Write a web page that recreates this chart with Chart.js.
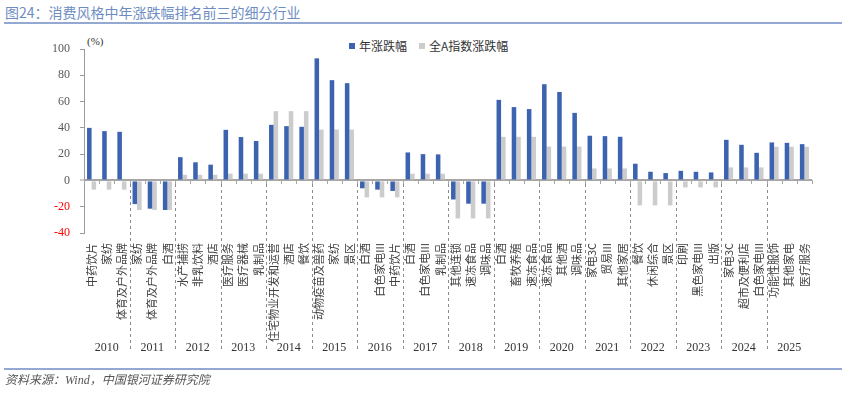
<!DOCTYPE html>
<html><head><meta charset="utf-8">
<script src="https://cdn.jsdelivr.net/npm/chart.js@4/dist/chart.umd.min.js"></script>
<style>
html,body{margin:0;padding:0;background:#fff;}
body{width:848px;height:393px;overflow:hidden;position:relative;font-family:"Liberation Serif","Noto Sans CJK SC",serif;}
#title{position:absolute;left:5px;top:3px;font-size:14px;line-height:18px;color:#6d8dc2;font-family:"Noto Sans CJK SC",sans-serif;white-space:nowrap;}
.hr{position:absolute;left:4px;width:838px;height:2px;background:#94a9d2;}
#footer{position:absolute;left:5px;top:372px;font-size:12px;line-height:16px;font-style:italic;color:#555;white-space:nowrap;font-family:"Liberation Serif","Noto Sans CJK SC",serif;}
#chart{position:absolute;left:0;top:0;}
.lg{position:absolute;font-size:12px;line-height:14px;color:#333;font-family:"Noto Sans CJK SC",sans-serif;white-space:nowrap;}
.sw{position:absolute;width:6px;height:6px;}
#pct{position:absolute;left:87px;top:35px;font-size:11px;line-height:13px;color:#333;}
</style>
</head><body>
<div id="title">图24：消费风格中年涨跌幅排名前三的细分行业</div>
<div class="hr" style="top:22px"></div>
<div id="pct">(%)</div>
<div class="sw" style="left:349px;top:43px;background:#3c63b0"></div>
<div class="lg" style="left:359px;top:39px">年涨跌幅</div>
<div class="sw" style="left:419px;top:43px;background:#cccccc"></div>
<div class="lg" style="left:429px;top:39px">全A指数涨跌幅</div>
<canvas id="chart" width="848" height="393"></canvas>
<div class="hr" style="top:368px"></div>
<div id="footer">资料来源：Wind，中国银河证券研究院</div>
<script>
const years = ['2010','2011','2012','2013','2014','2015','2016','2017','2018','2019','2020','2021','2022','2023','2024','2025'];
const categories = [
  '中药饮片','家纺','体育及户外品牌',
  '家纺','体育及户外品牌','白酒',
  '水产捕捞','非乳饮料','酒店',
  '医疗服务','医疗器械','乳制品',
  '住宅物业开发和运营','酒店','餐饮',
  '动物疫苗及兽药','家纺','景区',
  '白酒','白色家电III','中药饮片',
  '白酒','白色家电III','乳制品',
  '其他连锁','速冻食品','调味品',
  '白酒','畜牧养殖','速冻食品',
  '速冻食品','其他酒','调味品',
  '家电3C','贸易III','其他家居',
  '餐饮','休闲综合','景区',
  '印刷','黑色家电III','出版',
  '家电3C','超市及便利店','白色家电III',
  '功能性服饰','其他家电','医疗服务'
];
const yearChange = [
  40, 37.5, 37,
  -18, -21.5, -22.5,
  17.7, 13.8, 12,
  38.5, 33, 30,
  42.3, 41.3, 40.8,
  92.9, 76.3, 74,
  -6, -7, -8,
  21.3, 20, 19.8,
  -14.5, -17.7, -17.7,
  61.3, 55.8, 54.3,
  73.2, 67.3, 51.4,
  34, 33.7, 33.2,
  12.7, 6.6, 5.6,
  7.3, 6.6, 6.1,
  30.9, 27.1, 21,
  28.9, 28.6, 27.6
];
const allAChange = [
  -7, -7, -7,
  -22.5, -22.5, -22.5,
  4.3, 4.3, 4.3,
  5.1, 5.1, 5.1,
  52.7, 52.7, 52.7,
  38.7, 38.7, 38.7,
  -12.9, -12.9, -12.9,
  5.1, 5.1, 5.1,
  -28.9, -28.9, -28.9,
  33.2, 33.2, 33.2,
  25.8, 25.8, 25.8,
  9.1, 9.1, 9.1,
  -19, -19, -19,
  -5.3, -5.3, -5.3,
  9.9, 9.9, 9.9,
  25.6, 25.6, 25.6
];
const yTicks = {min:-40, max:100, step:20};

const groupPlugin = {
  id:'groups',
  afterDatasetsDraw(chart){
    const {ctx, scales:{x, y}} = chart;
    const per = categories.length / years.length;
    const y0 = Math.round(y.getPixelForValue(0));
    ctx.save();
    ctx.strokeStyle = '#a6a6a6'; ctx.lineWidth = 1;
    for (let i = 0; i <= categories.length; i++) {
      const px = Math.round(x.getPixelForValue(i - 0.5)) + 0.5;
      ctx.beginPath(); ctx.moveTo(px, y0); ctx.lineTo(px, y0 + 4); ctx.stroke();
    }
    ctx.setLineDash([3, 3]); ctx.strokeStyle = '#8c8c8c';
    for (let g = 1; g < years.length; g++) {
      const px = Math.round(x.getPixelForValue(g * per - 0.5)) + 0.5;
      ctx.beginPath(); ctx.moveTo(px, y0 + 4); ctx.lineTo(px, 352); ctx.stroke();
    }
    ctx.setLineDash([]);
    ctx.fillStyle = '#333';
    ctx.font = '12px "Liberation Serif"';
    ctx.textAlign = 'center'; ctx.textBaseline = 'middle';
    years.forEach((yr, g) => {
      const a = x.getPixelForValue(g * per - 0.5), b = x.getPixelForValue((g + 1) * per - 0.5);
      ctx.fillText(yr, (a + b) / 2, 348);
    });
    ctx.restore();
  }
};

new Chart(document.getElementById('chart'), {
  type: 'bar',
  data: {
    labels: categories,
    datasets: [
      {label:'年涨跌幅', data: yearChange, backgroundColor:'#3c63b0', borderWidth:0},
      {label:'全A指数涨跌幅', data: allAChange, backgroundColor:'#cccccc', borderWidth:0}
    ]
  },
  options: {
    responsive:false, animation:false, devicePixelRatio:1,
    categoryPercentage:0.6, barPercentage:1.0,
    layout:{padding:{top:49, right:36, left:0, bottom:0}},
    plugins:{legend:{display:false}, tooltip:{enabled:false}},
    scales:{
      x:{
        grid:{display:false, drawTicks:false},
        border:{display:false},
        ticks:{autoSkip:false, minRotation:90, maxRotation:90, padding:10, color:'#404040',
               font:{family:'"Noto Sans CJK SC"', size:11}},
        afterFit(s){ s.height = 160; }
      },
      y:{
        min:yTicks.min, max:yTicks.max,
        border:{display:true, color:'#9a9a9a', width:1},
        grid:{
          color: c => c.tick && c.tick.value === 0 ? '#a6a6a6' : 'rgba(0,0,0,0)',
          lineWidth: c => c.tick && c.tick.value === 0 ? 2 : 1,
          tickColor:'#9a9a9a', tickLength:4, tickWidth:1, drawTicks:true
        },
        ticks:{stepSize:yTicks.step, padding:10,
               color: c => c.tick.value < 0 ? '#ff0000' : '#595959',
               font:{family:'"Liberation Serif"', size:12}},
        afterFit(s){ s.width = 84; }
      }
    }
  },
  plugins:[groupPlugin]
});
</script>
</body></html>
